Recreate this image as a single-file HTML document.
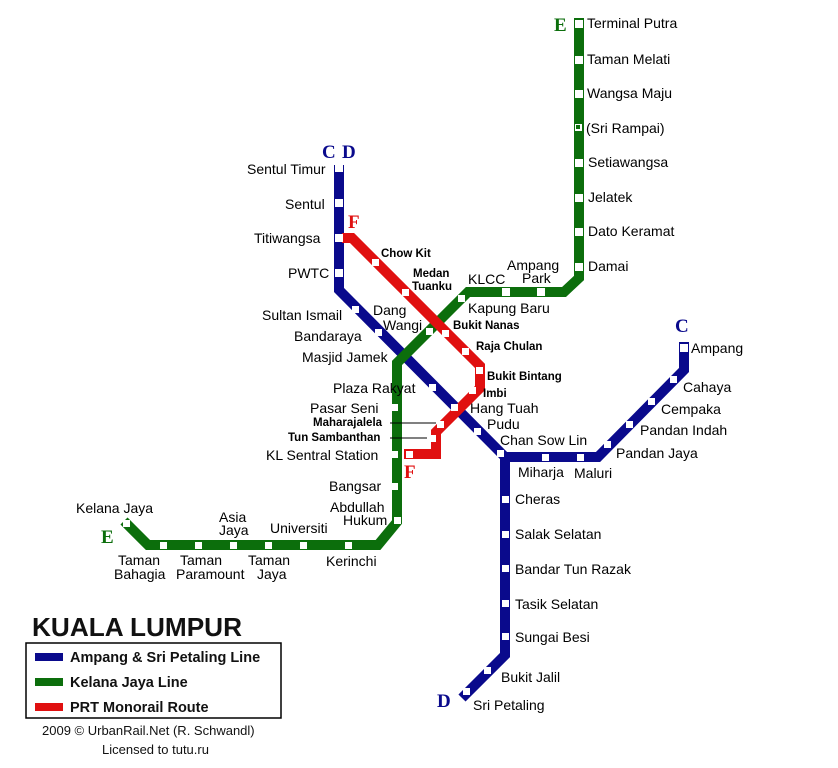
<!DOCTYPE html>
<html><head><meta charset="utf-8"><style>
html,body{margin:0;padding:0;background:#fff;}
svg{display:block;font-family:"Liberation Sans",Arial,sans-serif;}
</style></head><body>
<svg width="838" height="768" viewBox="0 0 838 768" xmlns="http://www.w3.org/2000/svg">
<g fill="none" stroke-linejoin="miter" stroke-linecap="butt">
<polyline points="339,165 339,290 505,457 598,457 684,370 684,342" stroke="#0a0a8c" stroke-width="10"/>
<polyline points="505,455 505,655 462,698" stroke="#0a0a8c" stroke-width="10"/>
<polyline points="579,18 579,278 564,292 468,292 397,363 397,522 378,545 148,545 124,521" stroke="#0c6e0c" stroke-width="10"/>
<polyline points="342,238 352,238 480,366 480,388 436,432 436,454 404,454" stroke="#e01010" stroke-width="10"/>
</g>
<g stroke="#000" stroke-width="1">
<line x1="390" y1="423" x2="436" y2="423"/>
<line x1="390" y1="438" x2="427" y2="438"/>
</g>
<g fill="#fff" stroke="none">
<rect x="335" y="164" width="8" height="8"/><rect x="335" y="199" width="8" height="8"/>
<rect x="335" y="234" width="8" height="8"/><rect x="335" y="269" width="8" height="8"/>
<rect x="352" y="306" width="7" height="7"/><rect x="375" y="329" width="7" height="7"/>
<rect x="429" y="384" width="7" height="7"/><rect x="451" y="404" width="7" height="7"/>
<rect x="474" y="428" width="7" height="7"/><rect x="497" y="450" width="7" height="7"/>
<rect x="542" y="454" width="7" height="7"/><rect x="577" y="454" width="7" height="7"/>
<rect x="604" y="441" width="7" height="7"/><rect x="626" y="421" width="7" height="7"/>
<rect x="648" y="398" width="7" height="7"/><rect x="670" y="376" width="7" height="7"/>
<rect x="680" y="344" width="8" height="8"/>
<rect x="502" y="496" width="7" height="7"/><rect x="502" y="531" width="7" height="7"/>
<rect x="502" y="565" width="7" height="7"/><rect x="502" y="600" width="7" height="7"/>
<rect x="502" y="633" width="7" height="7"/><rect x="484" y="667" width="7" height="7"/>
<rect x="463" y="688" width="7" height="7"/>
<rect x="575" y="20" width="8" height="8"/><rect x="575" y="56" width="8" height="8"/>
<rect x="575" y="90" width="8" height="8"/><rect x="575" y="124" width="7" height="7"/>
<rect x="575" y="159" width="8" height="8"/><rect x="575" y="194" width="8" height="8"/>
<rect x="575" y="228" width="8" height="8"/><rect x="575" y="263" width="8" height="8"/>
<rect x="537" y="288" width="8" height="8"/><rect x="502" y="288" width="8" height="8"/>
<rect x="458" y="295" width="7" height="7"/><rect x="426" y="328" width="7" height="7"/>
<rect x="391" y="404" width="7" height="7"/><rect x="391" y="451" width="7" height="7"/>
<rect x="391" y="483" width="7" height="7"/><rect x="394" y="517" width="7" height="7"/>
<rect x="345" y="542" width="7" height="7"/><rect x="300" y="542" width="7" height="7"/>
<rect x="265" y="542" width="7" height="7"/><rect x="230" y="542" width="7" height="7"/>
<rect x="195" y="542" width="7" height="7"/><rect x="160" y="542" width="7" height="7"/>
<rect x="123" y="520" width="7" height="7"/>
<rect x="372" y="259" width="7" height="7"/><rect x="402" y="289" width="7" height="7"/>
<rect x="442" y="330" width="7" height="7"/><rect x="462" y="348" width="7" height="7"/>
<rect x="476" y="367" width="7" height="7"/><rect x="469" y="387" width="7" height="7"/>
<rect x="437" y="421" width="7" height="7"/><rect x="429" y="435" width="7" height="7"/>
<rect x="406" y="451" width="7" height="7"/>
</g>
<rect x="576" y="125" width="4" height="4" fill="#0c6e0c"/>
<g font-family="Liberation Serif,serif" font-weight="bold" font-size="19">
<text x="322" y="158" fill="#0a0a8c">C</text><text x="342" y="158" fill="#0a0a8c">D</text>
<text x="675" y="332" fill="#0a0a8c">C</text><text x="437" y="707" fill="#0a0a8c">D</text>
<text x="554" y="31" fill="#0c6e0c">E</text><text x="101" y="543" fill="#0c6e0c">E</text>
<text x="348" y="228" fill="#e01010">F</text><text x="404" y="478" fill="#e01010">F</text>
</g>
<g font-size="14" fill="#000">
<text x="587" y="28">Terminal Putra</text><text x="587" y="64">Taman Melati</text>
<text x="587" y="98">Wangsa Maju</text><text x="586" y="133">(Sri Rampai)</text>
<text x="588" y="167">Setiawangsa</text><text x="588" y="202">Jelatek</text>
<text x="588" y="236">Dato Keramat</text><text x="588" y="271">Damai</text>
<text x="507" y="270">Ampang</text><text x="522" y="283">Park</text>
<text x="468" y="284">KLCC</text><text x="468" y="313">Kapung Baru</text>
<text x="247" y="174" >Sentul Timur</text><text x="285" y="209">Sentul</text>
<text x="254" y="243">Titiwangsa</text><text x="288" y="278">PWTC</text>
<text x="262" y="320">Sultan Ismail</text><text x="294" y="341">Bandaraya</text>
<text x="302" y="362">Masjid Jamek</text><text x="373" y="315">Dang</text><text x="383" y="330">Wangi</text>
<text x="333" y="393">Plaza Rakyat</text><text x="310" y="413">Pasar Seni</text>
<text x="266" y="460">KL Sentral Station</text><text x="329" y="491">Bangsar</text>
<text x="330" y="512">Abdullah</text><text x="343" y="525">Hukum</text>
<text x="470" y="413">Hang Tuah</text><text x="487" y="429">Pudu</text>
<text x="500" y="445">Chan Sow Lin</text><text x="518" y="477">Miharja</text><text x="574" y="478">Maluri</text>
<text x="616" y="458">Pandan Jaya</text><text x="640" y="435">Pandan Indah</text>
<text x="661" y="414">Cempaka</text><text x="683" y="392">Cahaya</text><text x="691" y="353">Ampang</text>
<text x="515" y="504">Cheras</text><text x="515" y="539">Salak Selatan</text>
<text x="515" y="574">Bandar Tun Razak</text><text x="515" y="609">Tasik Selatan</text>
<text x="515" y="642">Sungai Besi</text><text x="501" y="682">Bukit Jalil</text>
<text x="473" y="710">Sri Petaling</text>
<text x="76" y="513">Kelana Jaya</text>
<text x="219" y="522">Asia</text><text x="219" y="535">Jaya</text>
<text x="270" y="533">Universiti</text>
<text x="118" y="565">Taman</text><text x="114" y="579">Bahagia</text>
<text x="180" y="565">Taman</text><text x="176" y="579">Paramount</text>
<text x="248" y="565">Taman</text><text x="257" y="579">Jaya</text>
<text x="326" y="566">Kerinchi</text>
</g>
<g font-size="11.5" font-weight="bold" fill="#000">
<text x="381" y="257">Chow Kit</text><text x="413" y="277">Medan</text><text x="412" y="290">Tuanku</text>
<text x="453" y="329">Bukit Nanas</text><text x="476" y="350">Raja Chulan</text>
<text x="487" y="380">Bukit Bintang</text><text x="483" y="397">Imbi</text>
<text x="313" y="426">Maharajalela</text><text x="288" y="441">Tun Sambanthan</text>
</g>
<text x="32" y="636" font-size="26" font-weight="bold" fill="#111" textLength="210" lengthAdjust="spacingAndGlyphs">KUALA LUMPUR</text>
<rect x="26" y="643" width="255" height="75" fill="none" stroke="#000" stroke-width="1.5"/>
<rect x="35" y="653" width="28" height="8" fill="#0a0a8c"/>
<rect x="35" y="678" width="28" height="8" fill="#0c6e0c"/>
<rect x="35" y="703" width="28" height="8" fill="#e01010"/>
<g font-size="14.5" font-weight="bold" fill="#111">
<text x="70" y="662">Ampang  &amp; Sri Petaling Line</text>
<text x="70" y="687">Kelana Jaya Line</text>
<text x="70" y="712">PRT Monorail Route</text>
</g>
<text x="42" y="735" font-size="13" fill="#111">2009 © UrbanRail.Net (R. Schwandl)</text>
<text x="102" y="754" font-size="13" fill="#111">Licensed to tutu.ru</text>
</svg>
</body></html>
